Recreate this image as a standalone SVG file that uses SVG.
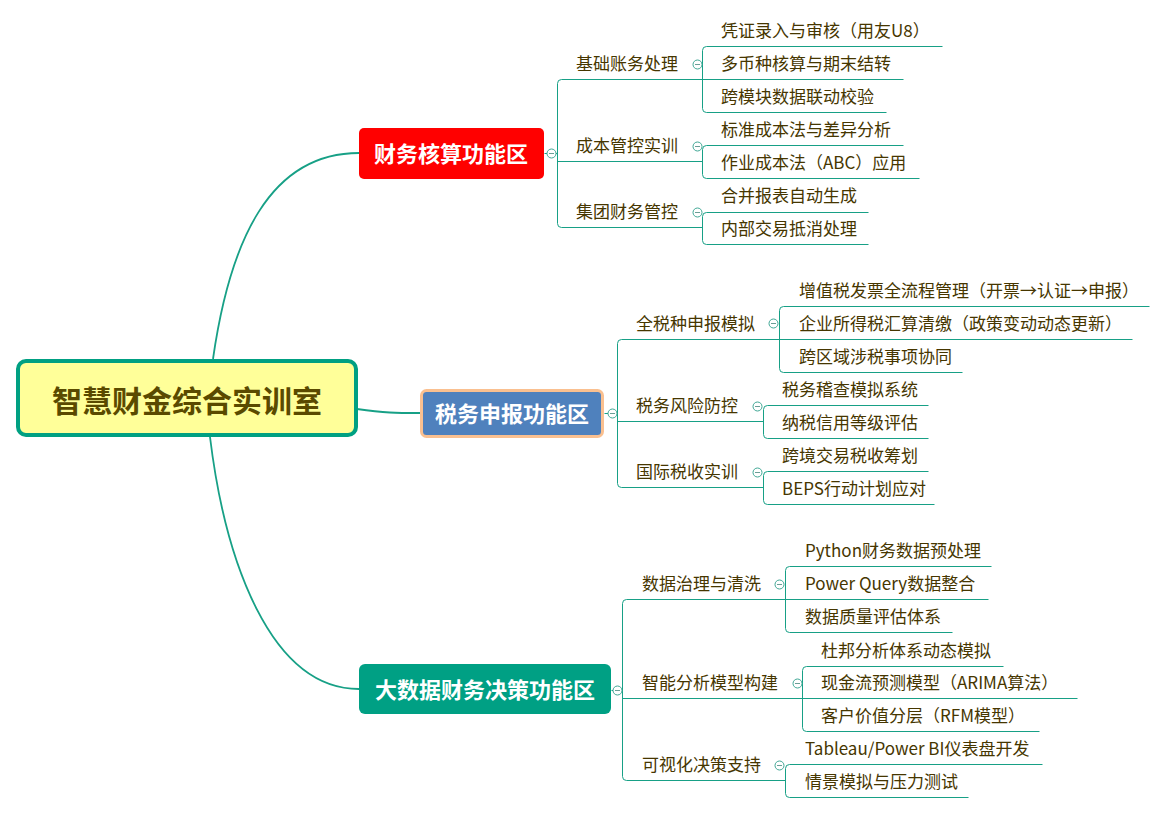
<svg xmlns="http://www.w3.org/2000/svg" width="1166" height="813" viewBox="0 0 1166 813">
<defs>
<style>
.ln{fill:none;stroke:#17A086;stroke-width:1}
.cv{fill:none;stroke:#17A086;stroke-width:1.8}
.t{font-family:"Noto Sans CJK SC","Microsoft YaHei",sans-serif;font-size:17px;fill:#463600;dominant-baseline:central}
.h{font-family:"Noto Sans CJK SC","Microsoft YaHei",sans-serif;font-size:22px;font-weight:bold;fill:#FFFFFF;dominant-baseline:central;text-anchor:middle}
.r{font-family:"Noto Sans CJK SC","Microsoft YaHei",sans-serif;font-size:30px;font-weight:bold;fill:#5A4A00;dominant-baseline:central;text-anchor:middle}
.c{fill:#FFFFFF;stroke:#3FA795;stroke-width:1}
.m{stroke:#6A9E96;stroke-width:1}
</style>
<g id="collapse">
<circle class="c" cx="0" cy="0" r="4.5"/>
<line class="m" x1="-2.5" y1="0" x2="2.5" y2="0"/>
</g>
</defs>
<rect width="1166" height="813" fill="#FFFFFF"/>

<g id="connectors">
<path class="cv" d="M213,359 C230,240 270,153 359,153"/>
<path class="cv" d="M210,437 C225,560 270,689 359,689"/>
<path class="cv" d="M357,409 C385,413 395,413 421,413"/>
<g transform="translate(0.5,0.5)">
<path class="ln" d="M544,153 H557"/>
<path class="ln" d="M702,79 H561 Q557,79 557,83 V223 Q557,227 561,227 H702"/>
<path class="ln" d="M557,161 H702"/>
<path class="ln" d="M942,46 H706 Q702,46 702,50 V108 Q702,112 706,112 H886"/>
<path class="ln" d="M702,79 H903"/>
<path class="ln" d="M903,145 H706 Q702,145 702,149 V174 Q702,178 706,178 H919"/>
<path class="ln" d="M868,212 H706 Q702,212 702,216 V240 Q702,244 706,244 H868"/>
<path class="ln" d="M604,413 H617"/>
<path class="ln" d="M779,339 H621 Q617,339 617,343 V483 Q617,487 621,487 H763"/>
<path class="ln" d="M617,421 H763"/>
<path class="ln" d="M1149,306 H783 Q779,306 779,310 V368 Q779,372 783,372 H962"/>
<path class="ln" d="M779,339 H1132"/>
<path class="ln" d="M928,405 H767 Q763,405 763,409 V434 Q763,438 767,438 H928"/>
<path class="ln" d="M928,471 H767 Q763,471 763,475 V500 Q763,504 767,504 H934"/>
<path class="ln" d="M611,690 H622"/>
<path class="ln" d="M785,599 H626 Q622,599 622,603 V776 Q622,780 626,780 H785"/>
<path class="ln" d="M622,698 H802"/>
<path class="ln" d="M991,566 H789 Q785,566 785,570 V628 Q785,632 789,632 H952"/>
<path class="ln" d="M785,599 H988"/>
<path class="ln" d="M1003,666 H806 Q802,666 802,670 V727 Q802,731 806,731 H1039"/>
<path class="ln" d="M802,698 H1077"/>
<path class="ln" d="M1042,764 H789 Q785,764 785,768 V793 Q785,797 789,797 H968"/>
</g>
</g>

<g id="root">
<rect x="18" y="361" width="338" height="74" rx="8" fill="#FFFF99" stroke="#00A082" stroke-width="4"/>
<text class="r" x="187" y="399">智慧财金综合实训室</text>
</g>

<g id="n1">
<rect x="359" y="128" width="185" height="51" rx="5" fill="#FF0000"/>
<text class="h" x="451" y="152">财务核算功能区</text>
<use href="#collapse" x="551.5" y="153.5"/>
</g>
<g id="n2">
<rect x="421.5" y="390.5" width="181" height="46" rx="5" fill="#4F81BD" stroke="#FAC090" stroke-width="3"/>
<text class="h" x="512" y="412">税务申报功能区</text>
<use href="#collapse" x="612.5" y="413.5"/>
</g>
<g id="n3">
<rect x="359" y="664" width="252" height="50" rx="6" fill="#00A084"/>
<text class="h" x="485" y="688">大数据财务决策功能区</text>
<use href="#collapse" x="617.5" y="690.5"/>
</g>

<g id="n1a"><text class="t" x="576" y="62">基础账务处理</text><use href="#collapse" x="697.5" y="64.5"/></g>
<g id="n1a1"><text class="t" x="721" y="29">凭证录入与审核（用友U8）</text></g>
<g id="n1a2"><text class="t" x="721" y="62">多币种核算与期末结转</text></g>
<g id="n1a3"><text class="t" x="721" y="95">跨模块数据联动校验</text></g>
<g id="n1b"><text class="t" x="576" y="144">成本管控实训</text><use href="#collapse" x="697.5" y="146.5"/></g>
<g id="n1b1"><text class="t" x="721" y="128">标准成本法与差异分析</text></g>
<g id="n1b2"><text class="t" x="721" y="161">作业成本法（ABC）应用</text></g>
<g id="n1c"><text class="t" x="576" y="210">集团财务管控</text><use href="#collapse" x="697.5" y="212.5"/></g>
<g id="n1c1"><text class="t" x="721" y="194">合并报表自动生成</text></g>
<g id="n1c2"><text class="t" x="721" y="227">内部交易抵消处理</text></g>

<g id="n2a"><text class="t" x="636" y="322">全税种申报模拟</text><use href="#collapse" x="773.5" y="323.5"/></g>
<g id="n2a1"><text class="t" x="799" y="289">增值税发票全流程管理（开票→认证→申报）</text></g>
<g id="n2a2"><text class="t" x="799" y="322">企业所得税汇算清缴（政策变动动态更新）</text></g>
<g id="n2a3"><text class="t" x="799" y="355">跨区域涉税事项协同</text></g>
<g id="n2b"><text class="t" x="636" y="404">税务风险防控</text><use href="#collapse" x="757.5" y="406.5"/></g>
<g id="n2b1"><text class="t" x="782" y="388">税务稽查模拟系统</text></g>
<g id="n2b2"><text class="t" x="782" y="421">纳税信用等级评估</text></g>
<g id="n2c"><text class="t" x="636" y="470">国际税收实训</text><use href="#collapse" x="757.5" y="472.5"/></g>
<g id="n2c1"><text class="t" x="782" y="454">跨境交易税收筹划</text></g>
<g id="n2c2"><text class="t" x="782" y="487">BEPS行动计划应对</text></g>

<g id="n3a"><text class="t" x="642" y="582">数据治理与清洗</text><use href="#collapse" x="779.5" y="584.5"/></g>
<g id="n3a1"><text class="t" x="805" y="549">Python财务数据预处理</text></g>
<g id="n3a2"><text class="t" x="805" y="582">Power Query数据整合</text></g>
<g id="n3a3"><text class="t" x="805" y="615">数据质量评估体系</text></g>
<g id="n3b"><text class="t" x="642" y="681">智能分析模型构建</text><use href="#collapse" x="797.5" y="683.5"/></g>
<g id="n3b1"><text class="t" x="821" y="649">杜邦分析体系动态模拟</text></g>
<g id="n3b2"><text class="t" x="821" y="681">现金流预测模型（ARIMA算法）</text></g>
<g id="n3b3"><text class="t" x="821" y="714">客户价值分层（RFM模型）</text></g>
<g id="n3c"><text class="t" x="642" y="763">可视化决策支持</text><use href="#collapse" x="779.5" y="765.5"/></g>
<g id="n3c1"><text class="t" x="805" y="747">Tableau/Power BI仪表盘开发</text></g>
<g id="n3c2"><text class="t" x="805" y="780">情景模拟与压力测试</text></g>
</svg>
